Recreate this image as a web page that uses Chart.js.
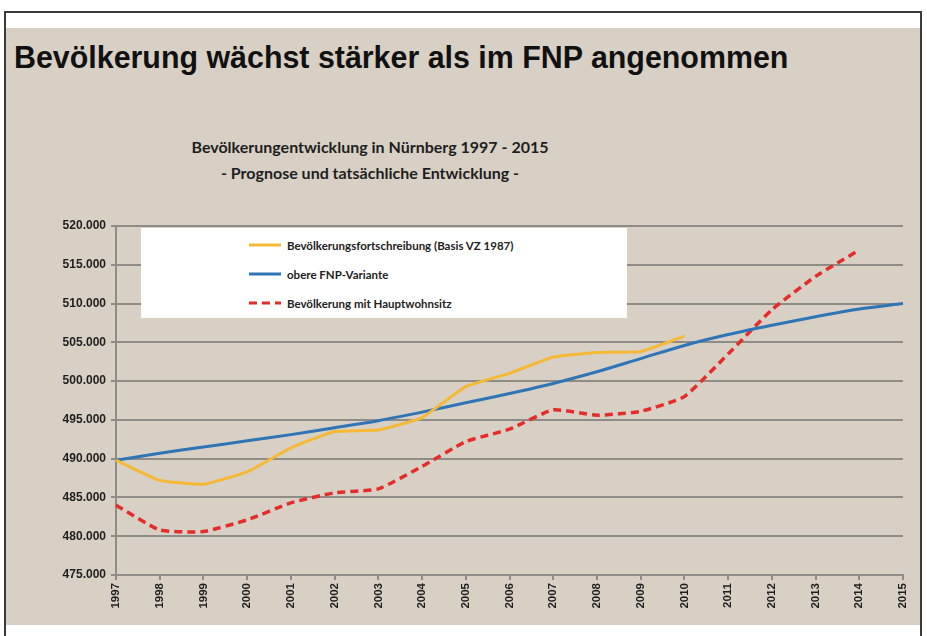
<!DOCTYPE html>
<html>
<head>
<meta charset="utf-8">
<script src="https://cdn.jsdelivr.net/npm/chart.js@4/dist/chart.umd.min.js"></script>
<style>
  html, body { margin: 0; padding: 0; background: #ffffff; }
  body { width: 927px; height: 636px; position: relative; overflow: hidden; }
  #frame { position: absolute; left: 4px; top: 11px; width: 918px; height: 640px; border: 2px solid #3a3a3a; border-bottom: none; box-sizing: border-box; }
  #panel { position: absolute; left: 6px; top: 28px; width: 914px; height: 597px; background: #d9d0c5; }
  #title { position: absolute; left: 14px; top: 42px; font-family: "Liberation Sans", Arial, sans-serif; font-weight: bold; font-size: 31px; line-height: 31px; color: #111; white-space: nowrap; transform: scaleX(0.98); transform-origin: left top; }
  #sub { position: absolute; left: 120px; width: 500px; top: 134px; text-align: center; font-family: Lato, "Open Sans", sans-serif; font-weight: bold; font-size: 16px; line-height: 26px; color: #1e1e1e; }
  #legend { position: absolute; left: 141px; top: 228px; width: 486px; height: 90px; background: #ffffff; z-index: 5; }
  .item { position: absolute; left: 108px; height: 20px; display: flex; align-items: center; font-family: Lato, "Open Sans", sans-serif; font-weight: bold; font-size: 11.5px; color: #222; white-space: nowrap; }
  .item svg { margin-right: 6px; }
  canvas { position: absolute; left: 0; top: 0; z-index: 2; }
</style>
</head>
<body>
<div id="frame"></div>
<div id="panel"></div>
<div id="title">Bevölkerung wächst stärker als im FNP angenommen</div>
<div id="sub">Bevölkerungentwicklung in Nürnberg 1997 - 2015<br>- Prognose und tatsächliche Entwicklung -</div>
<div id="legend"></div>
<canvas id="c" width="927" height="636"></canvas>
<script>
const years = ["1997","1998","1999","2000","2001","2002","2003","2004","2005","2006","2007","2008","2009","2010","2011","2012","2013","2014","2015"];
const fortschreibung = [489800, 487200, 486700, 488300, 491400, 493500, 493700, 495300, 499300, 501000, 503100, 503700, 503800, 505800, null, null, null, null, null];
const fnpVariante = [489800, 490700, 491500, 492300, 493100, 494000, 494900, 496000, 497200, 498400, 499700, 501200, 502900, 504600, 506000, 507200, 508300, 509300, 510000];
const hauptwohnsitz = [484000, 480800, 480600, 482100, 484300, 485600, 486100, 489000, 492200, 493800, 496300, 495600, 496100, 498000, 503500, 509200, 513500, 516900, null];
const seriesLabels = ["Bevölkerungsfortschreibung (Basis VZ 1987)", "obere FNP-Variante", "Bevölkerung mit Hauptwohnsitz"];
const yMin = 475000, yMax = 520000, yStep = 5000;

const gridColor = "#8f8b86";
const tickFamily = "'Liberation Sans', Arial, sans-serif";

const chart = new Chart(document.getElementById("c"), {
  type: "line",
  data: {
    labels: years,
    datasets: [
      { label: seriesLabels[0], data: fortschreibung, borderColor: "#f5b935", borderWidth: 3, pointRadius: 0, tension: 0.12 },
      { label: seriesLabels[1], data: fnpVariante, borderColor: "#2f74b5", borderWidth: 3, pointRadius: 0, tension: 0.3 },
      { label: seriesLabels[2], data: hauptwohnsitz, borderColor: "#e42d2b", borderWidth: 3.5, borderDash: [8, 5], pointRadius: 0, tension: 0.15 }
    ]
  },
  options: {
    responsive: false,
    animation: false,
    layout: { padding: { left: 0, top: 226, right: 24, bottom: 0 } },
    plugins: { legend: { display: false }, tooltip: { enabled: false }, title: { display: false } },
    scales: {
      x: {
        type: "category",
        offset: false,
        grid: { display: true, drawOnChartArea: false, drawTicks: true, tickLength: 5, color: gridColor, lineWidth: 2 },
        border: { display: true, color: gridColor, width: 2 },
        ticks: { minRotation: 90, maxRotation: 90, autoSkip: false, font: { family: tickFamily, weight: "bold", size: 11.5 }, color: "#1e1e1e", padding: 3 },
        afterFit: (s) => { s.height = 61; }
      },
      y: {
        min: yMin, max: yMax,
        ticks: { stepSize: yStep, font: { family: tickFamily, weight: "bold", size: 12 }, color: "#1e1e1e", padding: 5,
          callback: (v) => Math.floor(v / 1000) + "." + String(v % 1000).padStart(3, "0") },
        grid: { color: gridColor, lineWidth: 2, tickLength: 5, drawTicks: true },
        border: { display: true, color: gridColor, width: 2 },
        afterFit: (s) => { s.width = 116; }
      }
    }
  }
});

// HTML legend built from the chart's datasets
const leg = document.getElementById("legend");
const rows = [7, 36, 65];
chart.data.datasets.forEach((ds, i) => {
  const d = document.createElement("div");
  d.className = "item";
  d.style.top = rows[i] + "px";
  const dash = ds.borderDash ? 'stroke-dasharray="8 5"' : '';
  d.innerHTML = '<svg width="32" height="6"><line x1="0" y1="3" x2="32" y2="3" stroke="' + ds.borderColor + '" stroke-width="3" ' + dash + '/></svg>' + ds.label;
  leg.appendChild(d);
});
</script>
</body>
</html>
